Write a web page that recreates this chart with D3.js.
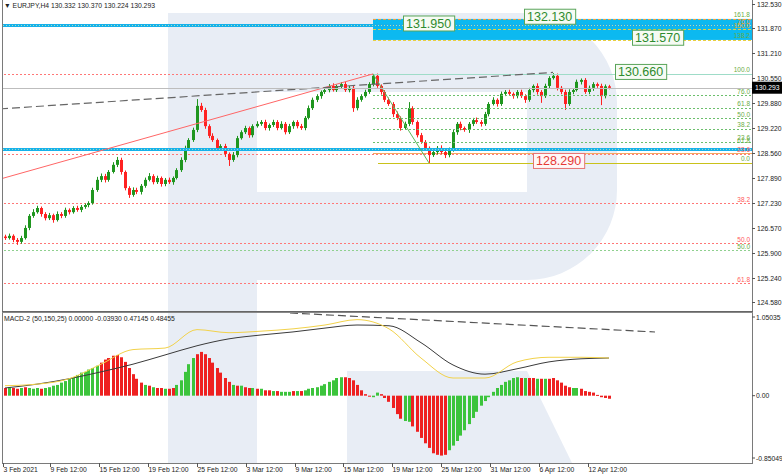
<!DOCTYPE html>
<html><head><meta charset="utf-8">
<script src="https://cdn.jsdelivr.net/npm/d3@7"></script>
<style>
html,body{margin:0;padding:0;background:#fff;}
svg{display:block;font-family:"Liberation Sans",Arial,sans-serif;}
</style></head><body>
<svg id="c" width="782" height="475"></svg>
<script>
// ---------------- DATA ----------------
const titleText = "\u25BC EURJPY,H4  130.332 130.370 130.224 130.293";
const macdTitle = "MACD-2 (50,150,25) 0.00000 -0.03930 0.47145 0.48455";
const firstOpen = 126.33;
const closes = [126.29,126.35,126.24,126.19,126.29,126.56,126.88,126.98,127.09,126.93,
 126.82,126.90,126.77,126.93,126.88,127.04,126.98,127.09,127.04,127.12,
 127.17,127.22,127.57,127.84,127.94,127.84,128.05,128.24,128.37,128.05,
 127.62,127.44,127.57,127.52,127.68,127.84,127.94,127.78,127.89,127.73,
 127.84,127.78,127.89,128.10,128.37,128.69,128.90,129.17,129.81,129.70,
 129.27,129.01,128.90,128.69,128.74,128.53,128.37,128.50,128.95,129.11,
 129.22,129.03,129.27,129.33,129.38,129.22,129.30,129.38,129.22,129.33,
 129.11,129.27,129.38,129.27,129.22,129.49,129.75,129.97,130.07,130.18,
 130.23,130.34,130.23,130.34,130.39,130.23,130.29,129.75,129.97,130.07,
 130.18,130.39,130.61,130.34,130.18,129.97,129.86,129.59,129.49,129.22,
 129.33,129.75,129.38,129.03,128.85,128.69,128.50,128.58,128.69,128.58,
 128.50,128.64,129.11,129.33,129.22,129.17,129.33,129.43,129.38,129.33,
 129.59,129.86,129.97,129.86,130.13,130.18,130.13,130.07,130.18,130.07,
 129.97,130.23,130.34,130.18,130.07,130.34,130.55,130.61,130.29,130.18,
 129.86,130.18,130.23,130.45,130.50,130.18,130.29,130.39,130.34,130.07,
 130.33,130.29];
// upper / lower wick lengths in pips (0.01)
const upWick = [5,6,4,5,6,7,5,8,6,4, 5,6,4,7,5,6,4,5,6,5, 4,5,6,8,7,6,5,7,8,6, 4,5,7,6,5,6,8,5,6,4,
 5,6,4,5,7,6,5,6,18,8, 6,5,7,4,5,6,4,8,6,5, 6,4,5,7,5,6,4,6,5,7, 5,6,4,5,6,5,7,6,5,4,
 6,5,7,4,5,6,5,6,7,5, 6,5,5,6,4,5,6,5,7,4, 6,16,5,4,6,5,4,6,5,7, 5,6,7,5,6,4,5,6,7,5,
 6,5,7,4,6,5,6,4,5,6, 5,6,4,7,5,6,5,7,6,5, 6,7,5,6,4,5,6,5,4,6, 5,4];
const dnWick = [5,4,6,8,5,4,6,5,4,7, 6,5,7,4,6,5,6,4,5,6, 5,6,4,5,6,7,5,4,6,7, 6,8,5,6,7,5,4,6,5,7,
 6,5,7,4,5,6,7,5,6,5, 7,6,5,7,6,8,16,5,6,4, 5,7,6,4,5,6,7,5,6,4, 6,5,7,6,5,6,4,5,6,7,
 5,6,4,5,7,5,6,10,6,5, 4,5,6,5,7,6,5,8,6,7, 5,6,7,6,5,7,21,5,6,5, 8,6,5,7,6,5,8,6,5,7,
 5,6,4,7,5,6,5,7,6,5, 8,5,6,7,18,5,6,4,7,6, 16,5,6,4,7,5,6,8,5,24, 6,4];
const currentPrice = 130.293;

const priceTicks = ["132.530","131.870","131.210","130.550","129.880","129.220","128.560",
 "127.890","127.230","126.570","125.900","125.240","124.580"];
const timeTickPos = [0,11.75,24,36.25,48.5,60.75,73,85,97.25,109.5,121.75,134,146.25];
const timeTickLabels = ["3 Feb 2021","9 Feb 12:00","15 Feb 12:00","19 Feb 12:00","25 Feb 12:00",
 "3 Mar 12:00","9 Mar 12:00","15 Mar 12:00","19 Mar 12:00","25 Mar 12:00","31 Mar 12:00",
 "6 Apr 12:00","12 Apr 12:00"];

// Fibonacci (green) from swing high to swing low
const fibHigh = 130.66, fibLow = 128.29, fibStartIdx = 92.5, fibEndIdx = 106.5;
const fibLevels = [0,23.6,38.2,50,61.8,76,100,138.2,150,161.8];
const fibLabels = ["0.0","23.6","38.2","50.0","61.8","76.0","100.0","138.2","150.0","161.8"];
// Fibonacci (red), full width
const redFibTop = 130.66, redFibBottom = 121.64;
const redLevels = [0,23.6,38.2,50,61.8];
const redLabels = ["","23.6","38.2","50.0","61.8"];
// extra horizontal levels
const cyanLevels = [131.95, 128.65];
const extraText = ["76.0","61.8","50.0"];
const extraPrice = [131.95,128.78,125.96];
// trend lines [idx1, price1, idx2, price2]
const redTrend = [-0.75,127.86,92.5,130.66];
const grayTrend = [-0.75,129.73,137.5,130.70];
// price boxes
const boxText = ["131.950","132.130","131.570","130.660","128.290"];
const boxPrice = [131.95,132.13,131.57,130.66,128.29];
const boxIdx = [100,130.25,157.25,153,132.5];

// MACD
const hist = [0.10,0.11,0.10,0.09,0.10,0.11,0.10,0.09,0.10,0.09,
 0.10,0.11,0.13,0.14,0.17,0.19,0.22,0.24,0.27,0.30,
 0.31,0.34,0.36,0.39,0.43,0.47,0.49,0.52,0.53,0.50,
 0.44,0.36,0.28,0.22,0.17,0.14,0.13,0.11,0.10,0.10,
 0.09,0.09,0.10,0.14,0.20,0.31,0.41,0.49,0.54,0.57,
 0.54,0.49,0.43,0.36,0.30,0.23,0.18,0.14,0.13,0.13,
 0.11,0.10,0.10,0.09,0.09,0.07,0.07,0.06,0.06,0.05,
 0.05,0.05,0.06,0.06,0.06,0.07,0.09,0.10,0.11,0.13,
 0.15,0.18,0.20,0.23,0.24,0.24,0.23,0.20,0.14,0.07,
 0.02,-0.01,-0.02,0.04,0.02,-0.03,-0.08,-0.16,-0.24,-0.30,
 -0.33,-0.34,-0.40,-0.47,-0.55,-0.62,-0.68,-0.75,-0.77,-0.78,
 -0.77,-0.71,-0.65,-0.59,-0.52,-0.45,-0.37,-0.29,-0.21,-0.13,
 -0.07,-0.02,0.05,0.10,0.14,0.18,0.20,0.23,0.24,0.23,
 0.23,0.23,0.23,0.22,0.22,0.22,0.22,0.23,0.20,0.17,
 0.13,0.11,0.10,0.10,0.09,0.06,0.05,0.04,0.01,-0.02,
 -0.03,-0.04];
const histColor = "rgrrgrgggr" + "gggggggggggggg" + "rrrrrrrrrrr" + "grgrrgrr" + "ggggg" +
 "rrrrrrrrr" + "grgrrgrgrrgrgggrgr" + "gggggggggg" + "rrrrr" + "rrggr" + "rrrrr" + "gg" +
 "rrrrrrrrr" + "gggggggggggggggggg" + "rgrrgrgrrrrrrggrrrrrrrr";
const lineIdx = [0,8,16,24,32,40,48,56,64,72,80,88,96,104,112,120,128,136,144,151];
const macdMain = [0.10,0.15,0.22,0.31,0.41,0.53,0.65,0.74,0.79,0.83,0.88,0.92,0.91,0.69,0.40,0.28,0.35,0.44,0.48,0.49];
const macdSignal = [0.13,0.15,0.22,0.41,0.60,0.62,0.86,0.82,0.84,0.87,0.92,0.99,0.87,0.49,0.23,0.23,0.44,0.50,0.50,0.49];
const macdTrend = [71.75,1.077,163,0.829];
const macdTicks = ["1.05035","0.00","-0.85049"];

// ---------------- DRAW ----------------
const svg = d3.select("#c");
const AX = 752, MAIN_B = 311, M_T = 313, M_B = 463;
svg.append("rect").attr("width",782).attr("height",475).attr("fill","#fff");

const x = d3.scaleLinear().domain([0,152]).range([3,611]);
const y = d3.scaleLinear().domain([124.58,132.53]).range([302.3,3.7]);
const yM = d3.scaleLinear().domain([-0.85049,1.05035]).range([461,315]);
const cx = i => x(i+0.5);

// watermark
const wm = svg.append("g").attr("fill","#e8edf5");
wm.append("path").attr("fill-rule","evenodd")
  .attr("d","M168,13H527A90,90 0 0 1 617,103V190A90,90 0 0 1 527,280H257V463H168Z M257,92H527V192H257Z");
wm.append("path").attr("d","M347,371H527L572,463H347Z");

const defs = svg.append("defs");
defs.append("clipPath").attr("id","cm").append("rect").attr("x",2).attr("y",0).attr("width",AX-2).attr("height",MAIN_B);
defs.append("clipPath").attr("id","cd").append("rect").attr("x",2).attr("y",M_T).attr("width",AX-2).attr("height",M_B-M_T);

const main = svg.append("g").attr("clip-path","url(#cm)");

// green fib rectangle (138.2 - 161.8)
const fp = l => fibLow + (fibHigh-fibLow)*l/100;
main.append("rect").attr("x",x(fibStartIdx)).attr("width",AX-x(fibStartIdx))
  .attr("y",y(fp(161.8))).attr("height",y(fp(138.2))-y(fp(161.8))).attr("fill","#0cb9f0");

// red fib full width dotted
const rp = l => redFibTop - (redFibTop-redFibBottom)*l/100;
redLevels.forEach((l,k)=>{
  main.append("line").attr("x1",0).attr("x2",AX).attr("y1",Math.round(y(rp(l)))+0.5).attr("y2",Math.round(y(rp(l)))+0.5)
    .attr("stroke","#f77").attr("stroke-dasharray","2,2");
});
// extra green full-width level
main.append("line").attr("x1",0).attr("x2",AX).attr("y1",Math.round(y(extraPrice[2]))+0.5).attr("y2",Math.round(y(extraPrice[2]))+0.5)
  .attr("stroke","#8fd08f").attr("stroke-dasharray","2,2");
// orange line near red 23.6
main.append("line").attr("x1",x(fibStartIdx)).attr("x2",AX).attr("y1",Math.round(y(rp(23.6)))-0.5).attr("y2",Math.round(y(rp(23.6)))-0.5)
  .attr("stroke","#f5a860").attr("stroke-width",1);

// candles
const candles = closes.map((c,i)=>{const o = i ? closes[i-1] : firstOpen;
  return {i,o,c,h:Math.max(o,c)+upWick[i]/100,l:Math.min(o,c)-dnWick[i]/100};});
const cg = main.append("g");
cg.selectAll("line").data(candles).join("line")
  .attr("x1",d=>Math.floor(cx(d.i))+0.5).attr("x2",d=>Math.floor(cx(d.i))+0.5)
  .attr("y1",d=>y(d.h)).attr("y2",d=>y(d.l))
  .attr("stroke",d=>d.c>=d.o?"#1f961f":"#f22");
cg.selectAll("rect").data(candles).join("rect")
  .attr("x",d=>Math.floor(cx(d.i))-1).attr("width",3)
  .attr("y",d=>y(Math.max(d.o,d.c))).attr("height",d=>Math.max(1,Math.abs(y(d.o)-y(d.c))))
  .attr("fill",d=>d.c>=d.o?"#1f961f":"#f22");

// green fib levels
fibLevels.forEach((l,k)=>{
  const yy = Math.round(y(fp(l)))+0.5;
  let stroke="#6cbf6c", dash="2,2", x0=x(fibStartIdx);
  if(l===0){stroke="#c9c21a"; dash=null; x0=x(fibStartIdx)+5;}
  if(l===100){stroke="#9fdcc8"; dash=null;}
  if(l===138.2||l===150){stroke="#e8d040"; dash="3,2";}
  if(l===161.8){stroke="#f0a040"; dash="3,2";}
  const ln = main.append("line").attr("x1",x0).attr("x2",AX).attr("y1",yy).attr("y2",yy).attr("stroke",stroke);
  if(dash) ln.attr("stroke-dasharray",dash);
});
// cyan horizontal levels
cyanLevels.forEach(p=>{
  main.append("line").attr("x1",0).attr("x2",AX).attr("y1",y(p)).attr("y2",y(p)).attr("stroke","#16b1ea").attr("stroke-width",3);
  main.append("line").attr("x1",0).attr("x2",AX).attr("y1",y(p)).attr("y2",y(p)).attr("stroke","#e8f4b0").attr("stroke-width",1)
    .attr("stroke-dasharray","1,2").attr("opacity",0.7);
});
// trend lines
main.append("line").attr("x1",x(redTrend[0])).attr("y1",y(redTrend[1])).attr("x2",x(redTrend[2])).attr("y2",y(redTrend[3]))
  .attr("stroke","#f66").attr("stroke-width",1);
main.append("line").attr("x1",x(grayTrend[0])).attr("y1",y(grayTrend[1])).attr("x2",x(grayTrend[2])).attr("y2",y(grayTrend[3]))
  .attr("stroke","#666").attr("stroke-width",1.2).attr("stroke-dasharray","8,4");
main.append("line").attr("x1",x(fibStartIdx)).attr("y1",y(fibHigh)).attr("x2",x(fibEndIdx)).attr("y2",y(fibLow))
  .attr("stroke","#5cb85c").attr("stroke-width",1);
// current price line
main.append("line").attr("x1",0).attr("x2",AX).attr("y1",Math.round(y(currentPrice))+0.5).attr("y2",Math.round(y(currentPrice))+0.5)
  .attr("stroke","#bdbdbd");

// level labels
const lab = svg.append("g").attr("font-size",6.5).attr("text-anchor","end");
fibLevels.forEach((l,k)=>{
  let col="#6aad45";
  if(l===150) col="#e0b020";
  lab.append("text").attr("x",750).attr("y",y(fp(l))-1.5).attr("fill",col).text(fibLabels[k]);
});
redLevels.forEach((l,k)=>{ if(redLabels[k]) lab.append("text").attr("x",750).attr("y",y(rp(l))-1.5).attr("fill","#ff5a5a").text(redLabels[k]); });
extraText.forEach((t,k)=>{
  lab.append("text").attr("x",750).attr("y",y(extraPrice[k])-1.5).attr("fill",k===0?"#f29a30":"#6aad45").text(t);
});

// price boxes
boxText.forEach((t,k)=>{
  const red = boxPrice[k]===fibLow;
  const g = svg.append("g");
  const tx = g.append("text").attr("font-size",12.5).attr("fill",red?"#e53935":"#2e8b2e")
    .attr("x",x(boxIdx[k])+3).attr("y",y(boxPrice[k])+2.5).text(t);
  const w = tx.node().getComputedTextLength();
  g.insert("rect","text").attr("x",x(boxIdx[k])+0.5).attr("y",y(boxPrice[k])-9.5).attr("width",w+6).attr("height",15)
    .attr("fill",red?"#fff6f6":"#f6fbf4").attr("stroke",red?"#e57373":"#5aa55a");
});

// ---------------- MACD ----------------
const md = svg.append("g").attr("clip-path","url(#cd)");
md.selectAll("rect").data(hist).join("rect")
  .attr("x",(d,i)=>Math.floor(cx(i))-1).attr("width",3)
  .attr("y",d=>Math.min(yM(0),yM(d))).attr("height",d=>Math.max(1,Math.abs(yM(d)-yM(0))))
  .attr("fill",(d,i)=>histColor[i]==="g"?"#3cc43c":"#ee2020");
const lineGen = arr => d3.line().x((d,k)=>cx(lineIdx[k])).y(d=>yM(d)).curve(d3.curveMonotoneX)(arr);
md.append("path").attr("d",lineGen(macdMain)).attr("fill","none").attr("stroke","#3a3a3a").attr("stroke-width",1);
md.append("path").attr("d",lineGen(macdSignal)).attr("fill","none").attr("stroke","#f2d24a").attr("stroke-width",1);
md.append("line").attr("x1",x(macdTrend[0])).attr("y1",yM(macdTrend[1])).attr("x2",x(macdTrend[2])).attr("y2",yM(macdTrend[3]))
  .attr("stroke","#555").attr("stroke-width",1.2).attr("stroke-dasharray","8,4");

// ---------------- FRAME & AXES ----------------
const fr = svg.append("g").attr("stroke","#7a7a7a").attr("fill","none");
fr.append("line").attr("x1",2.5).attr("x2",2.5).attr("y1",0).attr("y2",M_B);
fr.append("line").attr("x1",AX+0.5).attr("x2",AX+0.5).attr("y1",0).attr("y2",M_B+1);
fr.append("line").attr("x1",2).attr("x2",AX+1).attr("y1",M_B+0.5).attr("y2",M_B+0.5);
fr.append("line").attr("x1",2).attr("x2",AX+1).attr("y1",MAIN_B+0.5).attr("y2",MAIN_B+0.5).attr("stroke","#666").attr("stroke-width",1.2);
fr.append("line").attr("x1",2).attr("x2",AX+1).attr("y1",M_T-0.5).attr("y2",M_T-0.5).attr("stroke","#888");

const ax = svg.append("g").attr("font-size",6.8).attr("fill","#222");
priceTicks.forEach(t=>{
  const yy = Math.round(y(+t))+0.5;
  ax.append("line").attr("x1",AX).attr("x2",AX+3).attr("y1",yy).attr("y2",yy).attr("stroke","#555");
  ax.append("text").attr("x",757).attr("y",yy+2.5).text(t);
});
macdTicks.forEach(t=>{
  const yy = Math.max(317,Math.min(458,yM(+t)));
  ax.append("line").attr("x1",AX).attr("x2",AX+3).attr("y1",yy).attr("y2",yy).attr("stroke","#555");
  ax.append("text").attr("x",756).attr("y",yy+2.5).text(t);
});
timeTickPos.forEach((p,k)=>{
  const xx = Math.round(x(p))+0.5;
  ax.append("line").attr("x1",xx).attr("x2",xx).attr("y1",M_B).attr("y2",M_B+4).attr("stroke","#555");
  ax.append("text").attr("x",xx).attr("y",472).text(timeTickLabels[k]);
});
// current price tag
const cy = y(currentPrice);
svg.append("rect").attr("x",AX).attr("y",cy-6).attr("width",30).attr("height",12).attr("fill","#000");
svg.append("text").attr("x",755).attr("y",cy+2.5).attr("font-size",6.8).attr("fill","#fff").text(currentPrice.toFixed(3));

// titles
svg.append("text").attr("x",4).attr("y",8).attr("font-size",6.8).attr("fill","#222").text(titleText);
svg.append("text").attr("x",4).attr("y",321).attr("font-size",6.8).attr("fill","#222").text(macdTitle);
</script>
</body></html>
